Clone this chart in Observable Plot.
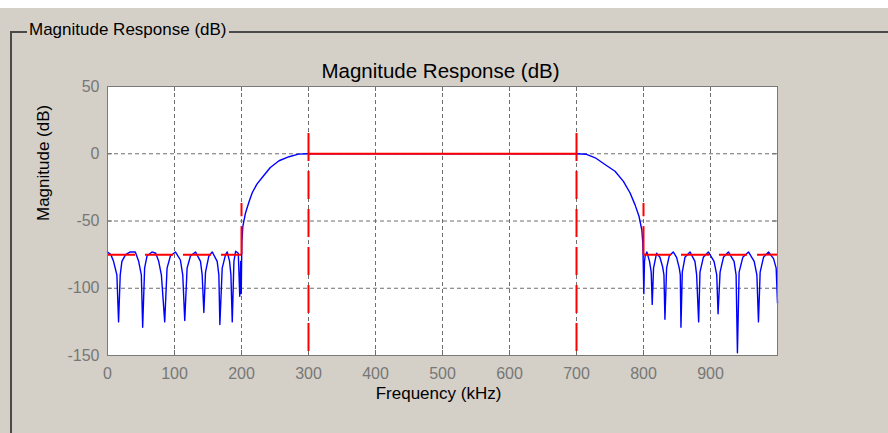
<!DOCTYPE html>
<html><head><meta charset="utf-8">
<script src="https://cdn.jsdelivr.net/npm/d3@7"></script>
<script src="https://cdn.jsdelivr.net/npm/@observablehq/plot@0.6"></script>
<style>
html,body{margin:0;padding:0;}
body{width:888px;height:433px;background:#d4d0c8;position:relative;overflow:hidden;font-family:"Liberation Sans",Arial,sans-serif;}
#topband{position:absolute;left:0;top:0;width:888px;height:8px;background:#fff;}
#group{position:absolute;left:10px;top:31px;width:900px;height:420px;border-left:2px solid #4a4a4a;border-top:2px solid #4a4a4a;}
#grouplabel{position:absolute;left:27px;top:20px;background:#d4d0c8;padding:0 2px;font-size:17px;line-height:20px;color:#000;white-space:nowrap;}
#chart{position:absolute;left:0;top:0;}
</style></head><body>
<div id="topband"></div>
<div id="group"></div>
<div id="grouplabel">Magnitude Response (dB)</div>
<div id="chart"></div>
<script>
// Axis ticks
const xTicks = [0, 100, 200, 300, 400, 500, 600, 700, 800, 900];
const yTicks = [-150, -100, -50, 0, 50];

// Blue magnitude response (kHz, dB)
const lowStopF = [0, 5, 9, 14, 16.5, 19, 21.5, 27, 34, 41.5, 46.5, 50.5, 52.5, 55.4, 59, 66.4, 72, 76.4, 80.4, 85.4, 88.9, 93.9, 101.4, 108.8, 112.3, 115.3, 118.8, 123.8, 131.3, 138.8, 141.3, 143.8, 146.3, 151.3, 156.3, 163.7, 166.2, 167.7, 171.2, 176.2, 178.7, 182.2, 184.2, 186.2, 188.7, 191.2, 195.2, 197.4, 198.8];
const lowStopDb = [-73, -75, -80, -90, -125, -90, -80, -75, -73, -73, -80, -90, -129, -85, -76, -73, -74, -80, -90, -125, -85, -76, -73, -79, -90, -124, -85, -76, -73, -80, -90, -118, -88, -76, -73, -80, -90, -127, -85, -75, -73, -80, -90, -125, -80, -72.5, -74, -106, -80];
const lowTransF = [199.6, 200.5, 202, 206, 211, 216, 223, 233, 243, 256, 271, 285, 298];
const lowTransDb = [-104, -66, -54, -44, -36, -29, -22.6, -16.4, -10.2, -5.2, -2.2, -0.3, 0];
const passF = [300, 500, 700];
const passDb = [0, 0, 0];
const highTransF = [715, 728, 742.5, 757.5, 770, 780, 787.4, 793.4, 797.5, 799, 800.5];
const highTransDb = [-0.4, -3, -8, -13, -20.5, -29.2, -38, -46.7, -56.7, -66.7, -104];
const highStopF = [801.5, 802.5, 805, 809, 811.5, 813, 815, 819.5, 824.5, 828.5, 830.5, 832, 834.5, 838.4, 844.4, 849.4, 853.4, 854.9, 855.9, 857.9, 861.9, 869.4, 876.8, 879.3, 882.3, 884.3, 889.3, 896.8, 905.3, 909.3, 911.3, 914.3, 919.3, 926.7, 935.2, 938.2, 940.2, 942.7, 948.2, 956.7, 965.2, 969.2, 971.6, 974.1, 979.1, 986.6, 994.1, 998, 1000];
const highStopDb = [-80, -76, -73, -80, -88, -112, -85, -74, -77, -84, -90, -123, -85, -76, -73, -77, -85, -90, -129, -88, -77, -73, -80, -90, -125, -88, -77, -73, -80, -90, -119, -88, -77, -73, -80, -90, -148, -88, -77, -73, -80, -90, -125, -88, -77, -73, -78, -85, -111];

// Red specification mask
const stopAtten = -75;
const stopBand1 = [0, 200];
const stopBand2 = [800, 1000];
const passBand = [300, 700];
const passLevel = 0;
const passMarkerTop = 15;
const stopMarkerTop = -37;
const plotFloor = -150;

const freqs = [...lowStopF, ...lowTransF, ...passF, ...highTransF, ...highStopF];
const mags = [...lowStopDb, ...lowTransDb, ...passDb, ...highTransDb, ...highStopDb];
const resp = freqs.map((f, i) => ({f, db: mags[i]}));

const W = 888, H = 433, mL = 107, mR = 111, mT = 86, mB = 78;
const plotW = W - mL - mR, plotH = H - mT - mB;
const gridColor = "#6e6e6e";
const red = "#ff0000";
const dash = "28,10";
const fmt = d => String(d);

const chart = Plot.plot({
  width: W, height: H,
  marginLeft: mL, marginRight: mR, marginTop: mT, marginBottom: mB,
  style: {background: "transparent", fontFamily: "'Liberation Sans', Arial, sans-serif", fontSize: "16px", color: "#000", overflow: "visible"},
  x: {domain: [0, 1000]},
  y: {domain: [-150, 50]},
  marks: [
    Plot.frame({fill: "white", stroke: null}),
    Plot.ruleX(xTicks, {x: d => d, stroke: gridColor, strokeDasharray: "4,3"}),
    Plot.ruleY(yTicks, {y: d => d, stroke: gridColor, strokeDasharray: "4,3"}),
    Plot.tickX(xTicks, {x: d => d, insetTop: plotH - 5, stroke: gridColor}),
    Plot.tickX(xTicks, {x: d => d, insetBottom: plotH - 5, stroke: gridColor}),
    Plot.tickY(yTicks, {y: d => d, insetRight: plotW - 5, stroke: gridColor}),
    Plot.tickY(yTicks, {y: d => d, insetLeft: plotW - 5, stroke: gridColor}),
    Plot.line(resp, {x: "f", y: "db", stroke: "#0000ff", strokeWidth: 1.4}),
    // mask
    Plot.ruleY([stopAtten], {y: d => d, x1: stopBand1[0], x2: stopBand1[1], stroke: red, strokeWidth: 2, strokeDasharray: dash}),
    Plot.ruleY([stopAtten], {y: d => d, x1: stopBand2[0], x2: stopBand2[1], stroke: red, strokeWidth: 2, strokeDasharray: dash}),
    Plot.ruleY([passLevel], {y: d => d, x1: passBand[0], x2: passBand[1], stroke: red, strokeWidth: 2.2}),
    Plot.ruleX([stopBand1[1], stopBand2[0]], {x: d => d, y1: stopAtten, y2: stopMarkerTop, stroke: red, strokeWidth: 2, strokeDasharray: dash}),
    Plot.ruleX(passBand, {x: d => d, y1: passMarkerTop, y2: plotFloor, stroke: red, strokeWidth: 2, strokeDasharray: dash}),
    Plot.frame({stroke: "#7a7a7a"}),
    Plot.axisX({ticks: xTicks, tickSize: 0, tickPadding: 12, color: "#777", label: null, fontSize: 16, tickFormat: fmt}),
    Plot.axisY({ticks: yTicks, tickSize: 0, tickPadding: 8, color: "#777", label: null, fontSize: 16, tickFormat: fmt}),
    Plot.text(["Frequency (kHz)"], {text: d => d, frameAnchor: "bottom", dy: 43, dx: -4, fontSize: 17, fill: "#000"}),
    Plot.text(["Magnitude (dB)"], {text: d => d, frameAnchor: "left", dx: -64, rotate: -90, fontSize: 17, fill: "#000"}),
    Plot.text(["Magnitude Response (dB)"], {text: d => d, frameAnchor: "top", dy: -23, dx: -2, fontSize: 20.5, fill: "#000"})
  ]
});
document.getElementById("chart").appendChild(chart);
</script>
</body></html>
